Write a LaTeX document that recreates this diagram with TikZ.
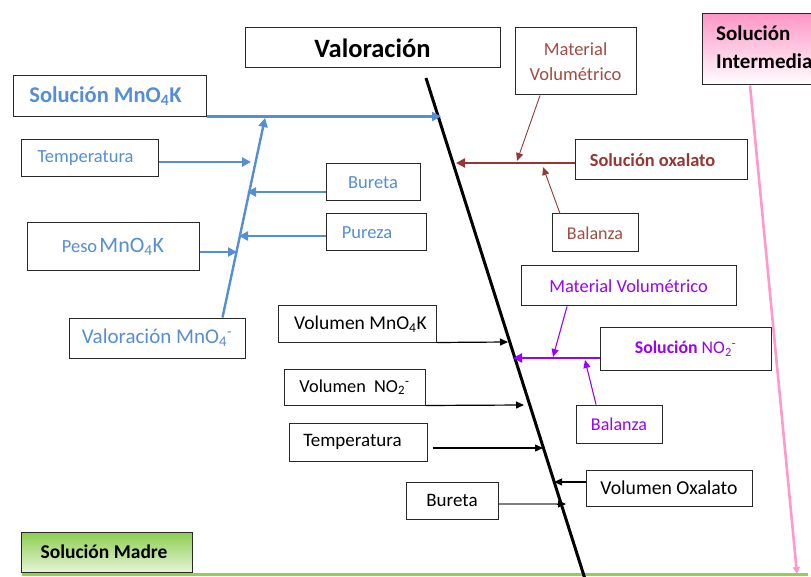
\documentclass[tikz,border=0pt]{standalone}
\usepackage{fontspec}
\setmainfont{Carlito}
\usetikzlibrary{arrows.meta,calc}
\definecolor{cblue}{RGB}{85,142,213}
\definecolor{cbrown}{RGB}{149,55,53}
\definecolor{cbrownt}{RGB}{165,75,65}
\definecolor{cpurple}{RGB}{153,0,255}
\definecolor{cpink}{RGB}{255,153,204}
\definecolor{cgreen}{RGB}{146,208,80}
\definecolor{cborder}{RGB}{40,40,40}
\newcommand\fs[1]{\fontsize{#1}{#1}\selectfont}
\begin{document}
\begin{tikzpicture}[x=1pt,y=-1pt,
  box/.style={draw=cborder, line width=1pt, inner sep=0pt, align=center, fill=white},
  tipA/.style={-{Triangle[length=8pt,width=7pt]}},
  tipB/.style={-{Triangle[length=9pt,width=9pt]}},
  bluel/.style={draw=cblue, line width=2.4pt},
  brownl/.style={draw=cbrown, line width=2.6pt},
  purpl/.style={draw=cpurple, line width=2.6pt},
  thinbrown/.style={draw=cbrown, line width=0.9pt, tipA},
  thinpurp/.style={draw=cpurple, line width=1.1pt, tipA},
  blk/.style={draw=black, line width=1.2pt, tipA}]
\useasboundingbox (0,0) rectangle (811,577);
\clip (0,0) rectangle (811,577);

% key points
\coordinate (sT) at (426,78);
\coordinate (sB) at (585,579);
\coordinate (bMain) at (441,116.5);
\coordinate (bDtop) at (265,118);
\coordinate (bT) at (251,162);
\coordinate (bB) at (247,192);
\coordinate (bP) at (239,236);
\coordinate (bW) at (237,252);
\coordinate (rMain) at (456,163);
\coordinate (rM) at (517,161);
\coordinate (rB) at (543,167);
\coordinate (pMain) at (513,358);
\coordinate (pM) at (553,357);
\coordinate (pB) at (585,360);
\coordinate (kVM) at (508,342);
\coordinate (kVN) at (524,405);
\coordinate (kT) at (543,448);
\coordinate (kVO) at (554,482);
\coordinate (kBu) at (566,504);
\coordinate (gL) at (22,574);
\coordinate (gR) at (808,574);
\coordinate (pkB) at (797,574);

% nodes
\node[box, minimum width=255pt, minimum height=40pt, font=\fs{26.5}\bfseries] (val) at (372.5,48) {\raisebox{-3pt}{Valoración}};
\node[box, minimum width=193pt, minimum height=41pt, font=\fs{22.5}\bfseries, text=cblue] (solmn) at (109.5,96.5) {\hspace*{-8pt}Solución MnO\textsubscript{4}K};
\node[box, minimum width=137pt, minimum height=37pt, font=\fs{18.5}, text=cblue] (temp1) at (89.5,158.5) {\hspace*{-8pt}Temperatura};
\node[box, minimum width=94pt, minimum height=37pt, font=\fs{18.5}, text=cblue] (bur1) at (373,182.5) {Bureta};
\node[box, minimum width=100pt, minimum height=37pt, font=\fs{18.5}, text=cblue] (pur) at (376,232.5) {\hspace*{-18pt}Pureza};
\node[box, minimum width=172pt, minimum height=48pt, text=cblue] (peso) at (113,247) {{\fs{18.5}Peso} {\fs{22}MnO\textsubscript{4}K}};
\node[box, minimum width=176pt, minimum height=40pt, font=\fs{21}, text=cblue] (valmn) at (157,338) {Valoración MnO\textsubscript{4}\textsuperscript{-}};

\node[box, minimum width=121pt, minimum height=67pt, font=\fs{18.5}, text=cbrownt] (mv1) at (575.5,61.5) {Material\\[7pt]Volumétrico};
\node[box, minimum width=172pt, minimum height=40pt, font=\fs{18.4}\bfseries, text=cbrown] (solox) at (661,160) {\hspace*{-17pt}Solución oxalato};
\node[box, minimum width=86pt, minimum height=38pt, font=\fs{18}, text=cbrownt] (bal1) at (595,233) {Balanza};

\node[box, minimum width=215pt, minimum height=40pt, font=\fs{18.4}, text=cpurple] (mv2) at (628.5,286) {Material Volumétrico};
\node[box, minimum width=171pt, minimum height=43pt, font=\fs{17.8}, text=cpurple] (solno) at (685.5,348.5) {\textbf{Solución} NO\textsubscript{2}\textsuperscript{-}};
\node[box, minimum width=86pt, minimum height=38pt, font=\fs{18}, text=cpurple] (bal2) at (619,424) {Balanza};

\node[box, minimum width=158pt, minimum height=36pt, font=\fs{19.5}] (vm) at (357,324) {\hspace*{7pt}Volumen MnO\textsubscript{4}K};
\node[box, minimum width=141pt, minimum height=36pt, font=\fs{18.3}] (vn) at (354.5,387) {Volumen\ \ NO\textsubscript{2}\textsuperscript{-}};
\node[box, minimum width=138pt, minimum height=38pt, font=\fs{19}] (t2) at (358,442) {\hspace*{-11pt}Temperatura};
\node[box, minimum width=166pt, minimum height=36pt, font=\fs{19.7}] (vo) at (669,488) {Volumen Oxalato};
\node[box, minimum width=92pt, minimum height=37pt, font=\fs{19}] (bur2) at (452,500.5) {Bureta};

\node[draw=cborder, line width=1pt, inner sep=0pt, minimum width=128pt, minimum height=71pt,
      top color={rgb,255:red,255;green,150;blue,200}, bottom color=white] (si) at (766,49.5) {};
\node[anchor=north west, align=left, font=\fs{21}\bfseries, inner sep=0pt] (sitxt) at (716,26) {Solución\\[7pt]Intermedia};
\node[draw=cborder, line width=1pt, inner sep=0pt, minimum width=171pt, minimum height=40pt,
      top color={rgb,255:red,140;green,205;blue,80}, bottom color={rgb,255:red,230;green,244;blue,215},
      font=\fs{19.5}\bfseries] (sm) at (106.5,552) {\hspace*{-5pt}Solución Madre};

% green and pink lines
\draw[draw=cgreen, line width=3pt] (gL) -- (gR);
\draw[draw=cpink, line width=2.6pt, -{Triangle[length=7pt,width=7pt]}] ([xshift=-16pt]si.south) -- (pkB);

% spine
\draw[black, line width=3pt] (sT) -- (sB);

% blue branch
\draw[bluel, tipB] (solmn.east |- bMain) -- (bMain);
\draw[bluel, tipB] ([xshift=-23pt]valmn.north east) -- (bDtop);
\draw[bluel, tipB] (temp1.east |- bT) -- (bT);
\draw[bluel, tipB] (bur1.west |- bB) -- (bB);
\draw[bluel, tipB] (pur.west |- bP) -- (bP);
\draw[bluel, tipB] (peso.east |- bW) -- (bW);

% brown branch
\draw[brownl, tipB] (solox.west |- rMain) -- (rMain);
\draw[thinbrown] ([xshift=-35.5pt]mv1.south) -- (rM);
\draw[thinbrown] ([xshift=-35pt]bal1.north) -- (rB);

% purple branch
\draw[purpl, tipB] (solno.west |- pMain) -- (pMain);
\draw[thinpurp] ([xshift=-61.5pt]mv2.south) -- (pM);
\draw[thinpurp] ([xshift=-23pt]bal2.north) -- (pB);

% black arrows
\draw[blk] (vm.south east) -- (kVM);
\draw[blk] (vn.south east) -- (kVN);
\draw[blk] ($(t2.east |- kT)+(5,0)$) -- (kT);
\draw[blk] (vo.west |- kVO) -- (kVO);
\draw[draw=gray, line width=2pt] (bur2.east |- kBu) -- ($(kBu)+(-8,0)$);
\draw[black, line width=1pt, tipA] ($(kBu)+(-9,0)$) -- (kBu);
\end{tikzpicture}
\end{document}
